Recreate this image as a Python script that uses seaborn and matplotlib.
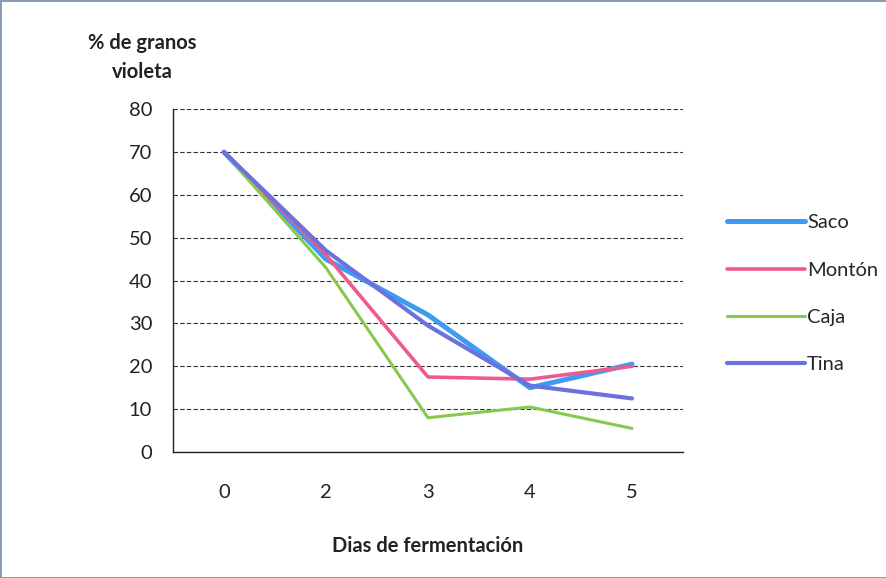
import matplotlib
matplotlib.use("Agg")
import matplotlib.pyplot as plt
from matplotlib.ticker import FixedLocator
import seaborn as sns
import pandas as pd

# Fermentation days and % of violet beans per fermentation method
dias = ["0", "2", "3", "4", "5"]
saco = [70, 45, 32, 15, 20.5]
monton = [70, 46, 17.5, 17, 20]
caja = [70, 43, 8, 10.5, 5.5]
tina = [70, 47, 29.5, 15.5, 12.5]

series = {"Saco": saco, "Montón": monton, "Caja": caja, "Tina": tina}
colores = {"Saco": "#3d9cf2", "Montón": "#ee5a8f", "Caja": "#86c94f", "Tina": "#6b72dc"}
grosor = {"Saco": 3.6, "Montón": 2.6, "Caja": 2.2, "Tina": 3.0}

rows = []
for nombre, vals in series.items():
    for i, v in enumerate(vals):
        rows.append({"pos": i, "valor": v, "metodo": nombre})
df = pd.DataFrame(rows)

sns.set_theme(style="white")
plt.rcParams["font.family"] = ["Lato", "DejaVu Sans"]

fig = plt.figure(figsize=(8.87, 5.78), dpi=100)
fig.patch.set_edgecolor("#8a9bb0")
fig.patch.set_linewidth(2)
ax = fig.add_axes([0.195, 0.218, 0.575, 0.593])

for nombre in series:
    sub = df[df["metodo"] == nombre]
    sns.lineplot(data=sub, x="pos", y="valor", ax=ax, color=colores[nombre],
                 linewidth=grosor[nombre], label=nombre, sort=False)

ax.set_xlim(-0.5, 4.5)
ax.set_ylim(0, 80)
ax.set_yticks(range(0, 81, 10))
ax.set_xticks(range(len(dias)))
ax.set_xticklabels(dias)
ax.xaxis.set_minor_locator(FixedLocator([i - 0.5 for i in range(len(dias) + 1)]))
ax.tick_params(axis="x", which="major", length=0, pad=23, labelsize=14.5, colors="#222222")
ax.tick_params(axis="x", which="minor", length=5, width=1, color="#222222", direction="out")
ax.tick_params(axis="y", which="major", length=5, width=1, color="#222222",
               direction="out", labelsize=14.5, pad=10, labelcolor="#222222")

ax.grid(True, axis="y", color="#333333", linestyle=(0, (4, 2)), linewidth=0.8)
ax.set_axisbelow(True)
for s in ["top", "right"]:
    ax.spines[s].set_visible(False)
for s in ["left", "bottom"]:
    ax.spines[s].set_color("#222222")
    ax.spines[s].set_linewidth(1.0)

ax.set_xlabel("Dias de fermentación", fontsize=14.5, fontweight="bold", labelpad=25, color="#222222")
ax.set_ylabel("")
fig.text(0.160, 0.925, "% de granos", fontsize=14.5, fontweight="bold", ha="center", va="center", color="#222222")
fig.text(0.160, 0.875, "violeta", fontsize=14.5, fontweight="bold", ha="center", va="center", color="#222222")

handles, labels = ax.get_legend_handles_labels()
ax.legend_.remove()
fig.legend(handles, labels, loc="upper left", bbox_to_anchor=(0.810, 0.643),
           frameon=False, fontsize=14.5, handlelength=3.9, handletextpad=0.1,
           labelspacing=1.5, borderaxespad=0)

fig.savefig("out.png", dpi=100, facecolor="white", edgecolor=fig.patch.get_edgecolor())
